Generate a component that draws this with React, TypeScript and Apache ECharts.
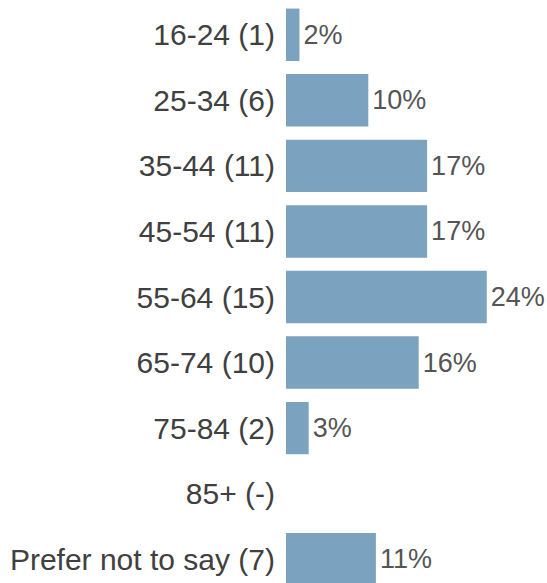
import React, { useEffect, useRef } from "react";
import * as echarts from "echarts";

const categories = [
  "16-24 (1)",
  "25-34 (6)",
  "35-44 (11)",
  "45-54 (11)",
  "55-64 (15)",
  "65-74 (10)",
  "75-84 (2)",
  "85+ (-)",
  "Prefer not to say (7)",
];
const values = [1.6, 9.8, 16.8, 16.8, 23.9, 15.8, 2.7, 0, 10.7];
const valueLabels = ["2%", "10%", "17%", "17%", "24%", "16%", "3%", "", "11%"];

export default function App() {
  const ref = useRef<HTMLDivElement>(null);
  useEffect(() => {
    if (!ref.current) return;
    const chart = echarts.init(ref.current, null, { renderer: "svg" });
    chart.setOption({
      animation: false,
      grid: { left: 286, top: 2, width: 252, height: 590, containLabel: false },
      xAxis: {
        type: "value",
        min: 0,
        max: 30,
        show: false,
      },
      yAxis: {
        type: "category",
        data: categories,
        inverse: true,
        axisLine: { show: false },
        axisTick: { show: false },
        splitLine: { show: false },
        axisLabel: {
          fontFamily: "Liberation Sans, Arial, sans-serif",
          fontSize: 30,
          color: "#404040",
          margin: 11,
        },
      },
      series: [
        {
          type: "bar",
          data: values,
          barCategoryGap: "20%",
          itemStyle: { color: "#7BA2BF" },
          label: {
            show: true,
            position: "right",
            distance: 4,
            fontFamily: "Liberation Sans, Arial, sans-serif",
            fontSize: 27,
            color: "#555555",
            formatter: (p: any) => valueLabels[p.dataIndex],
          },
        },
      ],
    });
    return () => chart.dispose();
  }, []);
  return (
    <div
      ref={ref}
      style={{ position: "absolute", left: 0, top: 0, width: 547, height: 600 }}
    />
  );
}
